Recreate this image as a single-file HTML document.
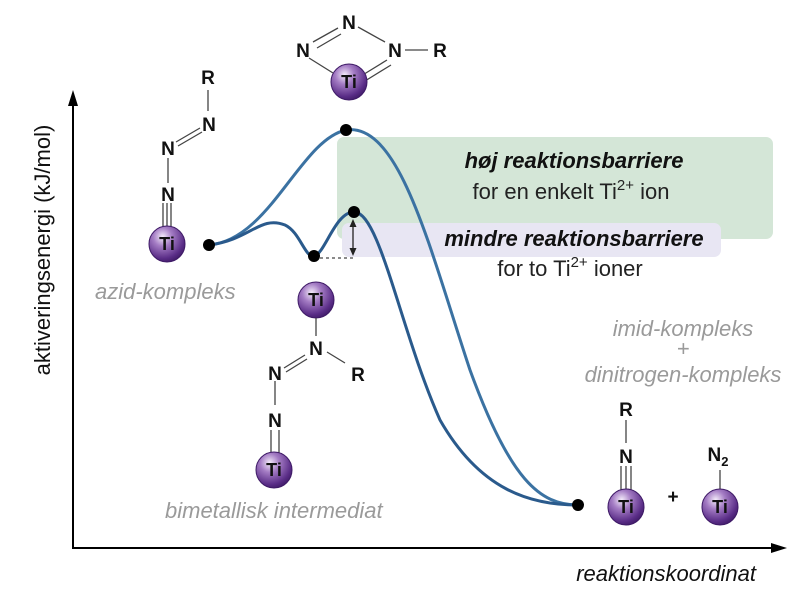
<!DOCTYPE html>
<html><head><meta charset="utf-8"><style>
body{margin:0;background:#fff}
svg{display:block}
text{font-family:"Liberation Sans",Arial,sans-serif}
.a{font-weight:bold;font-size:19px;fill:#111;text-anchor:middle}
.ti{font-weight:bold;font-size:18px;fill:#111;text-anchor:middle}
.g{font-style:italic;font-size:22px;fill:#9a9a9a}
.b{stroke:#444;stroke-width:1.3;fill:none}
</style></head><body>
<svg width="800" height="590" viewBox="0 0 800 590" xmlns="http://www.w3.org/2000/svg">
<defs>
<radialGradient id="tg" cx="0.38" cy="0.3" r="0.75">
<stop offset="0" stop-color="#f4ecfa"/><stop offset="0.35" stop-color="#a47cc4"/><stop offset="0.8" stop-color="#5a2d87"/><stop offset="1" stop-color="#3e1a66"/>
</radialGradient>
</defs>
<rect x="337" y="137" width="436" height="102" rx="7" fill="#d4e6d7"/>
<rect x="342" y="223" width="379" height="34" rx="7" fill="#e8e6f3"/>
<text x="574" y="168" font-size="22" font-weight="bold" font-style="italic" text-anchor="middle" fill="#111">høj reaktionsbarriere</text>
<text x="571" y="199" font-size="22" text-anchor="middle" fill="#222">for en enkelt Ti<tspan font-size="15" dy="-9">2+</tspan><tspan dy="9"> ion</tspan></text>
<text x="574" y="246" font-size="22" font-weight="bold" font-style="italic" text-anchor="middle" fill="#111">mindre reaktionsbarriere</text>
<text x="570" y="276" font-size="22" text-anchor="middle" fill="#222">for to Ti<tspan font-size="15" dy="-9">2+</tspan><tspan dy="9"> ioner</tspan></text>
<path d="M73 548 V100" stroke="#000" stroke-width="2" fill="none"/>
<path d="M73 90 L68 106 L78 106 Z" fill="#000"/>
<path d="M72 548 H775" stroke="#000" stroke-width="2" fill="none"/>
<path d="M787 548 L771 543 L771 553 Z" fill="#000"/>
<text transform="translate(50,250) rotate(-90)" font-size="22" text-anchor="middle" fill="#111">aktiveringsenergi  (kJ/mol)</text>
<text x="756" y="581" font-size="22" font-style="italic" text-anchor="end" fill="#111">reaktionskoordinat</text>
<path d="M209 245 C270 240 300 140 346 130 C400 122 430 250 470 370 C510 480 540 505 578 505" stroke="#3b72a2" stroke-width="3" fill="none"/>
<path d="M209 245 C250 240 260 215 285 225 C300 232 305 258 314 256 C325 254 335 212 354 212 C380 212 400 330 440 420 C480 490 530 505 578 505" stroke="#2a5a8c" stroke-width="3" fill="none"/>
<path d="M314 258 H354" stroke="#444" stroke-width="1.2" stroke-dasharray="3,3"/>
<path d="M353 222 V252" stroke="#222" stroke-width="1.3"/>
<path d="M353 219 L349.5 227 L356.5 227 Z M353 256 L349.5 248 L356.5 248 Z" fill="#222"/>
<g fill="#000"><circle cx="209" cy="245" r="6"/><circle cx="346" cy="130" r="6"/><circle cx="314" cy="256" r="6"/><circle cx="354" cy="212" r="6"/><circle cx="578" cy="505" r="6"/></g>
<path class="b" d="M163 203 V228 M167 203 V228 M171 203 V228 M168 183 V158 M176 142 L200 128 M178 146 L202 132 M208 111 V90"/>
<text class="a" x="168" y="201">N</text>
<text class="a" x="168" y="155">N</text>
<text class="a" x="209" y="131">N</text>
<text class="a" x="208" y="84">R</text>
<circle cx="167" cy="244" r="18" fill="url(#tg)" stroke="#3e1a66"/>
<text class="ti" x="167" y="250">Ti</text>
<text class="g" x="95" y="299">azid-kompleks</text>
<path class="b" d="M313 42 L338 28 M317 48 L341 34 M358 27 L385 42 M309 58 L333 73 M361 76 L387 60 M365 81 L391 65 M405 50 H428"/>
<text class="a" x="349" y="29">N</text>
<text class="a" x="303" y="57">N</text>
<text class="a" x="395" y="57">N</text>
<text class="a" x="440" y="57">R</text>
<circle cx="349" cy="82" r="18" fill="url(#tg)" stroke="#3e1a66"/>
<text class="ti" x="349" y="88">Ti</text>
<circle cx="316" cy="300" r="18" fill="url(#tg)" stroke="#3e1a66"/>
<text class="ti" x="316" y="306">Ti</text>
<path class="b" d="M316 318 V336 M284 368 L305 355 M286 372 L307 359 M327 352 L345 363 M275 381 V405 M271 430 V453 M279 430 V453"/>
<text class="a" x="316" y="355">N</text>
<text class="a" x="275" y="380">N</text>
<text class="a" x="358" y="381">R</text>
<text class="a" x="275" y="427">N</text>
<circle cx="274" cy="470" r="18" fill="url(#tg)" stroke="#3e1a66"/>
<text class="ti" x="274" y="476">Ti</text>
<text class="g" x="165" y="518">bimetallisk intermediat</text>
<text class="g" x="683" y="336" text-anchor="middle">imid-kompleks</text>
<text class="g" x="683" y="356" text-anchor="middle" font-size="15">+</text>
<text class="g" x="683" y="382" text-anchor="middle">dinitrogen-kompleks</text>
<path class="b" d="M626 420 V443 M621 466 V490 M626 466 V490 M631 466 V490 M720 470 V490"/>
<text class="a" x="626" y="416">R</text>
<text class="a" x="626" y="463">N</text>
<text class="a" x="718" y="461">N<tspan font-size="13" dy="5">2</tspan></text>
<text x="673" y="503" font-size="19" font-weight="bold" text-anchor="middle" fill="#111">+</text>
<circle cx="626" cy="507" r="18" fill="url(#tg)" stroke="#3e1a66"/>
<text class="ti" x="626" y="513">Ti</text>
<circle cx="720" cy="507" r="18" fill="url(#tg)" stroke="#3e1a66"/>
<text class="ti" x="720" y="513">Ti</text>
</svg>
</body></html>
